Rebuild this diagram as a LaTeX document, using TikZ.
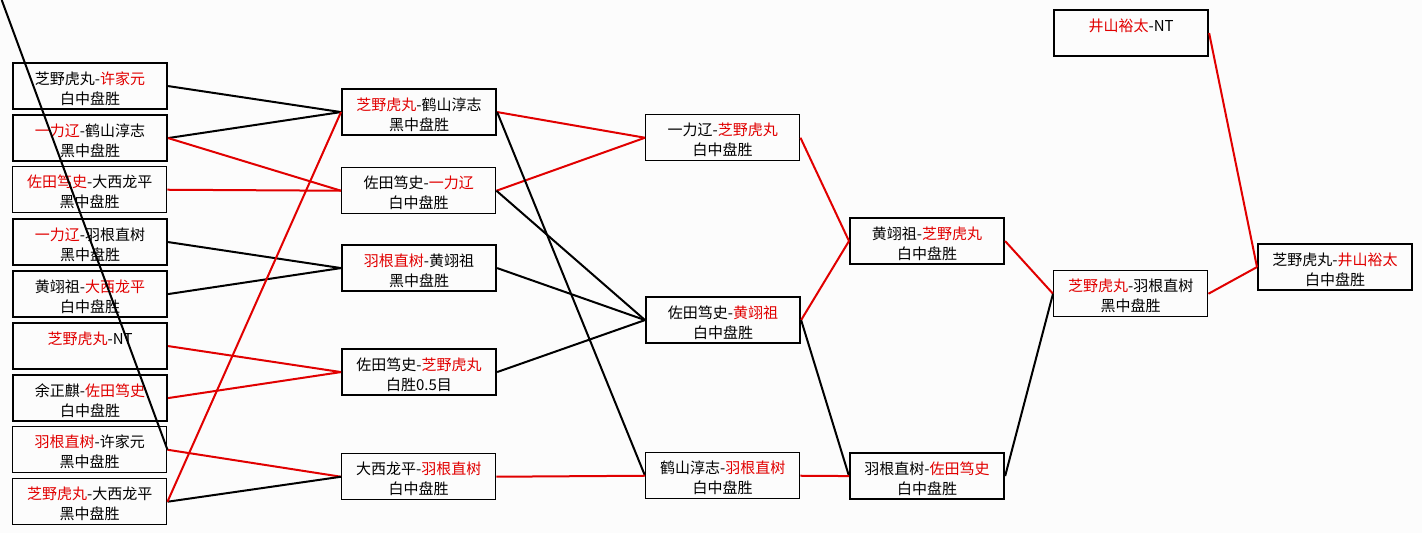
\documentclass[tikz,border=0pt]{standalone}
\usepackage{fontspec}
\setmainfont{Noto Sans CJK SC}
\definecolor{wr}{RGB}{225,0,0}
\definecolor{bgc}{RGB}{252,252,252}
\newcommand{\R}[1]{\textcolor{wr}{#1}}
\newcommand{\TT}[2]{\rule{0pt}{13pt}#1\\#2}
\begin{document}
\begin{tikzpicture}[x=0.75pt,y=-0.75pt,
  box/.style={draw=black, line width=1.6pt, anchor=north west, minimum width=115.5pt,
    minimum height=34.5pt, inner sep=0pt, align=center,
    font=\fontsize{11.25}{15}\selectfont},
  tbox/.style={box, line width=1.1pt},
  bl/.style={line width=1.5pt, black},
  rd/.style={line width=1.5pt, wr}]
\fill[bgc] (0,0) rectangle (1422,533);
\useasboundingbox (0,0) rectangle (1422,533);
% column 1
\node[box]  (c1a) at (12,62)  {\TT{芝野虎丸-\R{许家元}}{白中盘胜}};
\node[box]  (c1b) at (12,114) {\TT{\R{一力辽}-鹤山淳志}{黑中盘胜}};
\node[tbox] (c1c) at (12,166) {\TT{\R{佐田笃史}-大西龙平}{黑中盘胜}};
\node[box]  (c1d) at (12,218) {\TT{\R{一力辽}-羽根直树}{黑中盘胜}};
\node[box]  (c1e) at (12,270) {\TT{黄翊祖-\R{大西龙平}}{白中盘胜}};
\node[box]  (c1f) at (12,322) {\TT{\R{芝野虎丸}-NT}{\mbox{}}};
\node[box]  (c1g) at (12,374) {\TT{余正麒-\R{佐田笃史}}{白中盘胜}};
\node[tbox] (c1h) at (12,426) {\TT{\R{羽根直树}-许家元}{黑中盘胜}};
\node[tbox] (c1i) at (12,478) {\TT{\R{芝野虎丸}-大西龙平}{黑中盘胜}};
% column 2
\node[box]  (c2a) at (341,88)  {\TT{\R{芝野虎丸}-鹤山淳志}{黑中盘胜}};
\node[tbox] (c2b) at (341,167) {\TT{佐田笃史-\R{一力辽}}{白中盘胜}};
\node[box]  (c2c) at (341,244) {\TT{\R{羽根直树}-黄翊祖}{黑中盘胜}};
\node[box]  (c2d) at (341,348) {\TT{佐田笃史-\R{芝野虎丸}}{白胜0.5目}};
\node[tbox] (c2e) at (341,453) {\TT{大西龙平-\R{羽根直树}}{白中盘胜}};
% column 3
\node[tbox] (c3a) at (645,114) {\TT{一力辽-\R{芝野虎丸}}{白中盘胜}};
\node[box]  (c3b) at (645,296) {\TT{佐田笃史-\R{黄翊祖}}{白中盘胜}};
\node[tbox] (c3c) at (645,452) {\TT{鹤山淳志-\R{羽根直树}}{白中盘胜}};
% column 4
\node[box]  (c4a) at (849,217) {\TT{黄翊祖-\R{芝野虎丸}}{白中盘胜}};
\node[box]  (c4b) at (849,452) {\TT{羽根直树-\R{佐田笃史}}{白中盘胜}};
% column 5
\node[tbox] (c5a) at (1053,270) {\TT{\R{芝野虎丸}-羽根直树}{黑中盘胜}};
\node[box]  (c5t) at (1053,9)   {\TT{\R{井山裕太}-NT}{\mbox{}}};
% column 6
\node[box]  (c6a) at (1257,243) {\TT{芝野虎丸-\R{井山裕太}}{白中盘胜}};
\coordinate (topfree) at (1.7,0);
% connectors column 1 -> 2
\draw[bl] (c1a.east) -- (c2a.west);
\draw[bl] (c1b.east) -- (c2a.west);
\draw[rd] (c1b.east) -- (c2b.west);
\draw[rd] (c1c.east) -- (c2b.west);
\draw[bl] (c1d.east) -- (c2c.west);
\draw[bl] (c1e.east) -- (c2c.west);
\draw[rd] (c1f.east) -- (c2d.west);
\draw[rd] (c1g.east) -- (c2d.west);
\draw[rd] (c1h.east) -- (c2e.west);
\draw[bl] (c1i.east) -- (c2e.west);
\draw[rd] (c1i.east) -- (c2a.west);
\draw[bl] (topfree) -- (c1h.east);
% column 2 -> 3
\draw[rd] (c2a.east) -- (c3a.west);
\draw[rd] (c2b.east) -- (c3a.west);
\draw[bl] (c2a.east) -- (c3c.west);
\draw[bl] (c2b.east) -- (c3b.west);
\draw[bl] (c2c.east) -- (c3b.west);
\draw[bl] (c2d.east) -- (c3b.west);
\draw[rd] (c2e.east) -- (c3c.west);
% column 3 -> 4
\draw[rd] (c3a.east) -- (c4a.west);
\draw[rd] (c3b.east) -- (c4a.west);
\draw[bl] (c3b.east) -- (c4b.west);
\draw[rd] (c3c.east) -- (c4b.west);
% column 4 -> 5
\draw[rd] (c4a.east) -- (c5a.west);
\draw[bl] (c4b.east) -- (c5a.west);
% column 5 -> 6
\draw[rd] (c5a.east) -- (c6a.west);
\draw[rd] (c5t.east) -- (c6a.west);
\end{tikzpicture}
\end{document}
